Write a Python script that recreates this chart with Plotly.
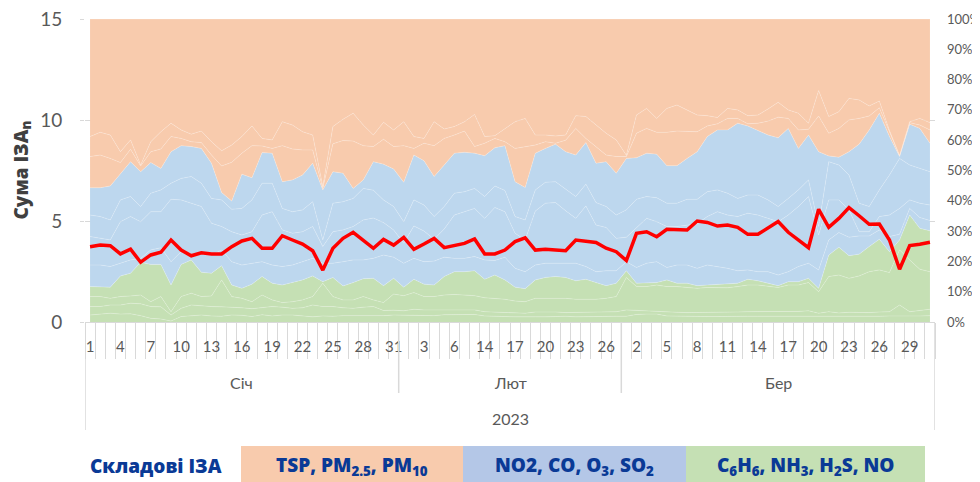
import numpy as np
import plotly.graph_objects as go

# ---------------- data ----------------
months = ["Січ", "Лют", "Бер"]
year_label = "2023"
jan_days = list(range(1, 32))
feb_days = [1, 2, 3, 4, 5, 6, 7] + list(range(13, 28))
mar_days = list(range(1, 32))
days = jan_days + feb_days + mar_days
month_lengths = [len(jan_days), len(feb_days), len(mar_days)]
pct_ticks = list(range(0, 101, 10))

# Сума ІЗА (left axis)
total_iza = [3.73, 3.81, 3.78, 3.37, 3.60, 2.96, 3.32, 3.45, 4.06, 3.56, 3.28, 3.43, 3.37, 3.37, 3.73, 4.01,
             4.14, 3.65, 3.65, 4.27, 4.06, 3.86, 3.53, 2.57,
             3.65, 4.14, 4.44, 4.06, 3.65, 4.09, 3.81, 4.19, 3.60, 3.86, 4.14, 3.68, 3.78, 3.89, 4.11, 3.37,
             3.37, 3.56, 3.98, 4.17, 3.56, 3.60, 3.56, 3.53, 4.06, 3.98, 3.94, 3.65, 3.48, 3.04, 4.39, 4.47,
             4.22, 4.59, 4.59, 4.55, 5.00, 4.93, 4.75, 4.80, 4.69, 4.34, 4.34, 4.64, 4.97, 4.44, 4.06, 3.68,
             5.58, 4.69, 5.13, 5.66, 5.26, 4.84, 4.85, 4.06, 2.61, 3.78, 3.85, 3.95]

# cumulative shares (% of daily sum), read bottom to top
cum_no = [2.3, 2.6, 2.9, 2.6, 2.7, 2.1, 1.2, 1.0, 0.3, 1.8, 2.0, 2.3, 2.0, 1.9, 2.3, 2.2, 1.8, 2.4, 2.0, 2.3,
          2.3, 2.1, 1.7, 2.0, 1.9, 2.1, 2.1, 1.9, 2.0,
          2.1, 2.3, 2.2, 2.3, 2.2, 2.1, 2.4, 2.5, 2.6, 2.5, 2.0, 1.8, 1.8, 1.7, 1.8, 1.7, 1.7, 1.8, 1.9, 1.7,
          1.8, 1.8, 1.8, 1.9, 1.9, 2.5, 2.6, 2.6,
          2.0, 1.9, 1.8, 1.8, 1.8, 1.8, 1.9, 1.9, 1.9, 1.9, 1.9, 1.9, 1.9, 1.8, 1.8, 1.7, 1.8, 1.7, 1.7, 1.8,
          1.8, 1.9, 2.0, 2.1, 2.0, 2.0, 2.1]
cum_h2s = [5.1, 5.1, 5.6, 5.6, 6.2, 6.0, 5.1, 5.0, 2.3, 4.5, 5.6, 5.3, 5.1, 5.0, 4.9, 4.7, 4.4, 4.7, 5.1, 4.9,
           4.5, 4.7, 5.6, 5.1, 5.1, 4.7, 4.5, 4.9, 5.1,
           3.8, 3.9, 3.7, 4.2, 4.0, 4.0, 4.0, 4.2, 4.0, 4.0, 3.4, 3.3, 3.2, 3.1, 2.9, 3.3, 3.4, 3.3, 3.1, 3.2,
           3.3, 3.4, 3.4, 3.4, 4.0, 3.8, 3.6, 3.6,
           3.4, 3.2, 3.1, 3.1, 3.2, 3.2, 3.2, 3.3, 3.4, 3.4, 3.4, 3.4, 3.4, 3.5, 3.7, 2.9, 3.4, 3.0, 3.2, 3.1,
           3.1, 3.3, 3.4, 5.6, 3.4, 3.8, 4.2]
cum_nh3 = [8.4, 8.4, 7.8, 8.4, 8.6, 8.9, 6.7, 8.4, 3.4, 8.4, 9.5, 8.4, 8.6, 13.9, 8.4, 7.8, 6.7, 8.9, 7.3, 6.4,
           6.7, 7.3, 8.4, 12.8, 8.4, 7.3, 7.3, 8.4, 7.3,
           6.4, 9.2, 8.7, 9.7, 8.4, 8.4, 8.9, 9.1, 8.9, 8.7, 8.0, 7.8, 7.5, 6.9, 6.7, 7.8, 7.8, 7.8, 7.8, 7.5,
           7.5, 7.5, 7.8, 8.4, 14.7, 11.7, 11.7, 12.2,
           11.7, 11.7, 11.4, 11.1, 11.4, 11.3, 11.3, 11.7, 12.2, 12.2, 11.7, 11.4, 12.2, 12.2, 13.0, 10.0,
           15.0, 15.5, 14.4, 15.2, 16.6, 17.2, 16.3, 23.8, 20.5, 17.4, 16.6]
cum_c6h6 = [11.7, 11.5, 11.5, 15.2, 16.1, 19.7, 19.0, 19.0, 12.2, 19.0, 20.5, 16.4, 16.1, 18.6, 12.2, 11.1,
            12.5, 15.0, 12.8, 12.2, 13.0, 13.9, 15.2, 13.3,
            14.7, 11.9, 13.0, 14.3, 14.4, 12.0, 14.4, 11.5, 14.1, 12.5, 12.2, 15.0, 16.6, 16.6, 16.9, 14.1,
            15.5, 13.9, 11.5, 11.0, 13.9, 14.7, 15.0, 14.7, 13.6, 14.1, 13.0, 12.0, 12.8, 16.9, 12.8, 12.8,
            13.0, 13.9, 12.8, 12.8, 12.0, 12.2, 12.4, 12.4, 12.8, 14.1, 13.6, 12.8, 12.0, 13.3, 13.3, 14.4,
            11.1, 22.1, 24.7, 21.9, 22.4, 24.9, 27.3, 23.2, 27.1, 35.3, 30.9, 30.1]
cum_so2 = [18.8, 18.8, 18.3, 19.4, 20.5, 21.0, 23.8, 24.5, 19.9, 23.2, 22.1, 22.7, 22.1, 23.8, 19.9, 18.8,
           19.4, 19.9, 18.8, 18.3, 18.8, 19.9, 21.0, 19.4, 19.4, 19.9, 20.5, 20.5, 21.0,
           22.1, 21.4, 19.4, 21.0, 19.9, 20.1, 21.4, 21.0, 21.0, 21.6, 20.5, 20.3, 21.4, 17.7, 16.6, 18.8,
           19.4, 19.4, 19.6, 19.4, 18.3, 16.6, 16.9, 16.9, 19.9, 18.0, 19.4, 19.9,
           18.0, 18.8, 18.8, 17.7, 18.8, 18.3, 17.7, 16.9, 17.2, 16.6, 16.6, 15.5, 16.6, 18.3, 19.4, 17.2,
           27.1, 29.5, 28.0, 28.4, 28.4, 30.4, 28.2, 29.0, 37.5, 34.5, 33.5]
cum_o3 = [28.2, 27.6, 27.1, 33.1, 34.8, 33.1, 36.4, 36.4, 40.5, 40.3, 39.2, 38.1, 32.6, 31.5, 29.8, 28.7,
          29.8, 35.3, 36.4, 30.4, 29.3, 29.8, 31.5, 24.9, 29.8, 30.4, 31.5, 33.7, 34.3,
          32.8, 30.4, 26.0, 31.7, 30.0, 27.3, 30.7, 35.3, 36.4, 37.5, 34.2, 37.8, 36.4, 29.3, 27.1, 36.6,
          39.2, 39.4, 36.7, 34.2, 38.3, 32.0, 31.2, 27.6, 28.0, 31.2, 34.2, 33.1,
          31.5, 31.5, 32.0, 32.4, 34.8, 36.4, 35.3, 34.8, 35.9, 35.3, 34.2, 33.1, 35.3, 38.1, 41.4, 28.7,
          40.3, 40.3, 37.0, 29.8, 29.8, 34.8, 35.3, 37.5, 40.3, 39.2, 38.6]
cum_co = [35.3, 34.8, 33.7, 40.3, 41.4, 38.1, 42.5, 43.6, 45.8, 47.4, 48.0, 45.8, 40.8, 40.3, 37.2, 37.5,
          40.3, 45.8, 45.8, 37.5, 36.4, 37.0, 39.7, 27.1, 39.2, 39.7, 40.8, 44.1, 43.5,
          40.3, 38.1, 33.1, 40.3, 38.6, 34.8, 38.1, 42.5, 43.0, 44.1, 41.4, 44.9, 43.4, 34.8, 33.7, 43.6,
          46.1, 46.3, 43.8, 41.4, 45.5, 39.4, 38.1, 35.3, 37.0, 40.5, 41.4, 41.0,
          39.2, 39.2, 40.5, 40.5, 43.0, 43.6, 42.5, 40.8, 41.9, 41.9, 40.3, 38.1, 40.8, 43.6, 46.9, 31.5,
          52.9, 51.8, 48.5, 39.2, 38.1, 43.6, 48.5, 54.0, 51.8, 50.7, 49.6]
cum_no2 = [44.3, 44.3, 44.9, 49.1, 52.9, 49.6, 52.6, 50.7, 56.2, 58.2, 57.9, 57.3, 52.4, 42.7, 39.9, 48.8,
           47.6, 55.9, 55.7, 46.3, 46.9, 48.5, 52.4, 43.6,
           49.6, 49.1, 44.1, 46.9, 52.9, 52.1, 50.5, 46.1, 55.1, 53.2, 48.0, 51.8, 55.7, 56.0, 55.7, 54.9,
           57.5, 58.2, 46.3, 44.4, 55.7, 57.3, 58.7, 56.2, 55.1, 59.2, 52.4, 52.9, 49.1, 54.0, 54.2, 55.7,
           55.4, 51.6, 51.6, 54.0, 56.2, 61.2, 63.4, 63.4, 65.6, 64.7, 63.1, 61.7, 60.8, 63.9, 57.3, 61.7,
           56.2, 54.8, 54.4, 56.2, 58.7, 63.4, 68.9, 61.2, 54.6, 65.3, 63.9, 59.0]
cum_pm10 = [54.6, 55.1, 54.0, 52.6, 57.0, 51.5, 56.2, 57.1, 61.2, 60.6, 59.5, 59.2, 55.1, 51.5, 52.7, 55.7,
            58.2, 58.1, 57.3, 58.2, 57.1, 56.8, 56.8, 44.1,
            58.8, 59.9, 59.7, 58.2, 57.9, 60.3, 57.9, 58.2, 57.3, 59.0, 58.2, 60.6, 61.7, 63.0, 57.9, 59.0,
            60.6, 59.5, 57.3, 57.9, 58.4, 59.5, 59.0, 60.0, 63.9, 60.6, 57.9, 55.1, 54.6, 54.6, 62.3, 63.9,
            62.6, 62.6, 63.0, 62.8, 62.8, 64.7, 65.4, 67.2, 67.2, 65.4, 65.6, 66.3, 67.6, 67.2, 63.4, 63.6,
            68.0, 62.3, 63.9, 66.7, 67.2, 68.0, 70.7, 62.8, 54.8, 65.8, 65.0, 63.4]
cum_pm25 = [61.2, 62.6, 61.7, 56.2, 60.1, 51.8, 59.5, 62.8, 65.6, 63.4, 62.0, 63.0, 59.5, 56.5, 58.4, 61.2,
            64.7, 60.6, 60.1, 66.1, 65.0, 62.8, 61.7, 44.7,
            64.5, 66.9, 68.9, 65.0, 61.7, 65.9, 63.4, 66.1, 61.2, 60.6, 66.1, 63.7, 64.5, 66.1, 68.5, 61.2,
            61.5, 63.9, 66.1, 67.2, 61.7, 61.7, 61.4, 61.7, 68.1, 67.8, 65.0, 62.3, 60.1, 55.0, 68.3, 70.5,
            67.2, 70.5, 71.6, 70.0, 68.3, 68.1, 67.5, 70.5, 70.0, 68.1, 68.3, 70.3, 72.5, 70.0, 68.9, 65.6,
            76.4, 67.8, 69.4, 73.8, 73.3, 71.3, 72.9, 63.2, 55.0, 66.1, 67.2, 65.8]

series_names = ["NO", "H2S", "NH3", "C6H6", "SO2", "O3", "CO", "NO2", "PM10", "PM2.5", "TSP"]
group_of = ["g", "g", "g", "g", "b", "b", "b", "b", "o", "o", "o"]
legend_title = "Складові ІЗА"
group_labels = ["TSP, PM<sub>2.5</sub>, PM<sub>10</sub>",
                "NO2, CO, O<sub>3</sub>, SO<sub>2</sub>",
                "C<sub>6</sub>H<sub>6</sub>, NH<sub>3</sub>, H<sub>2</sub>S, NO"]

# ---------------- styling ----------------
fill_colors = {"o": "#F8CBAD", "b": "#BDD7EE", "g": "#C5E0B4"}
legend_colors = ["#F8CBAD", "#B4C7E7", "#C5E0B4"]
text_gray = "#595959"
grid_gray = "#D9D9D9"
navy = "#0A3A96"
FONT = "Lato"
HEAVY = "Open Sans"

# the page body adds an 8px margin; size/margins compensate so the plot sits where the reference has it
PAGE_OFF = 8
W, H = 980 - PAGE_OFF, 482 - PAGE_OFF
PLOT_L, PLOT_R, PLOT_T, PLOT_B = 85, 935, 19, 322   # plot-area edges in window pixels

n = len(days)
idx = np.arange(n)
cum = np.vstack([np.zeros(n), cum_no, cum_h2s, cum_nh3, cum_c6h6, cum_so2, cum_o3, cum_co,
                 cum_no2, cum_pm10, cum_pm25, np.full(n, 100.0)])
shares = np.diff(cum, axis=0)

fig = go.Figure()
for k, name in enumerate(series_names):
    fig.add_trace(go.Scatter(
        x=idx, y=shares[k], name=name, mode="lines", stackgroup="iza", groupnorm="percent",
        line=dict(width=0.7, color="rgba(255,255,255,0.3)"),
        fillcolor=fill_colors[group_of[k]], yaxis="y", hoverinfo="skip"))

fig.add_trace(go.Scatter(x=idx, y=total_iza, name="Сума ІЗА", mode="lines",
                         line=dict(color="#FF0000", width=3.5), yaxis="y2"))

tick_idx = idx[::3]
fig.update_layout(
    width=W, height=H,
    margin=dict(l=PLOT_L - PAGE_OFF, r=980 - PLOT_R, t=PLOT_T - PAGE_OFF, b=482 - PLOT_B, pad=0),
    paper_bgcolor="white", plot_bgcolor="white",
    showlegend=False,
    font=dict(family=FONT, color=text_gray),
    xaxis=dict(range=[-0.5, n - 0.5], tickmode="array", tickvals=tick_idx,
               ticktext=[str(days[i]) for i in tick_idx], automargin=False, ticklabeloverflow="allow",
               ticks="outside", ticklen=11, tickcolor="rgba(0,0,0,0)",
               tickfont=dict(size=15, color=text_gray, family=FONT),
               showgrid=False, zeroline=False, showline=True, linecolor=grid_gray,
               minor=dict(tickmode="array", tickvals=[i - 0.5 for i in range(n + 1)],
                          ticks="outside", ticklen=36, tickcolor=grid_gray, tickwidth=1,
                          showgrid=False)),
    yaxis=dict(range=[0, 100], side="right", tickmode="array", tickvals=pct_ticks,
               ticktext=[f"{v}%" for v in pct_ticks], showgrid=False, zeroline=False, ticks="",
               automargin=False, ticklabeloverflow="allow",
               tickfont=dict(size=13, color=text_gray, family=FONT), ticklabelstandoff=11),
    yaxis2=dict(range=[0, 15], side="left", overlaying="y", tickmode="array", tickvals=[0, 5, 10, 15],
                showgrid=True, gridcolor=grid_gray, zeroline=False, ticks="outside", ticklen=4,
                automargin=False, ticklabeloverflow="allow",
                tickcolor=grid_gray, tickfont=dict(size=19, color=text_gray, family=FONT),
                ticklabelstandoff=14),
)


def px_x(p):
    return (p - PLOT_L) / (PLOT_R - PLOT_L)


def px_y(p):
    return (PLOT_B - p) / (PLOT_B - PLOT_T)


# y title
fig.add_annotation(text="Сума ІЗА<sub>n</sub>", textangle=-90, xref="paper", yref="paper",
                   x=px_x(21), y=0.5, xanchor="center", yanchor="middle", showarrow=False,
                   font=dict(size=19, color="#404040", family=HEAVY, weight=800))

# month / year labels and separators
bounds = np.concatenate([[0], np.cumsum(month_lengths)]) - 0.5
for k, m in enumerate(months):
    fig.add_annotation(text=m, x=(bounds[k] + bounds[k + 1]) / 2, y=px_y(382), xref="x", yref="paper",
                       xanchor="center", yanchor="middle", showarrow=False,
                       font=dict(size=16, color=text_gray, family=FONT))
fig.add_annotation(text=year_label, x=(bounds[0] + bounds[-1]) / 2, y=px_y(418), xref="x", yref="paper",
                   xanchor="center", yanchor="middle", showarrow=False,
                   font=dict(size=16, color=text_gray, family=FONT))
for k, b in enumerate(bounds):
    outer = k == 0 or k == len(bounds) - 1
    fig.add_shape(type="line", xref="x", yref="paper", x0=b, x1=b, y0=0,
                  y1=px_y(430) if outer else px_y(393), line=dict(color=grid_gray, width=1.5))

# bottom legend bar
box_edges = [241, 463, 686, 925]
fig.add_annotation(text=legend_title, x=px_x(156), y=px_y(466), xref="paper", yref="paper",
                   xanchor="center", yanchor="middle", showarrow=False,
                   font=dict(size=19, color=navy, family=HEAVY, weight=800))
for k in range(3):
    fig.add_shape(type="rect", xref="paper", yref="paper", x0=px_x(box_edges[k]), x1=px_x(box_edges[k + 1]),
                  y0=px_y(446), y1=px_y(484), fillcolor=legend_colors[k], line=dict(width=0), layer="below")
    fig.add_annotation(text=group_labels[k], x=px_x((box_edges[k] + box_edges[k + 1]) / 2),
                       y=px_y(466), xref="paper", yref="paper", xanchor="center", yanchor="middle",
                       showarrow=False, font=dict(size=19, color=navy, family=HEAVY, weight=800))

fig.write_html("out.html")
